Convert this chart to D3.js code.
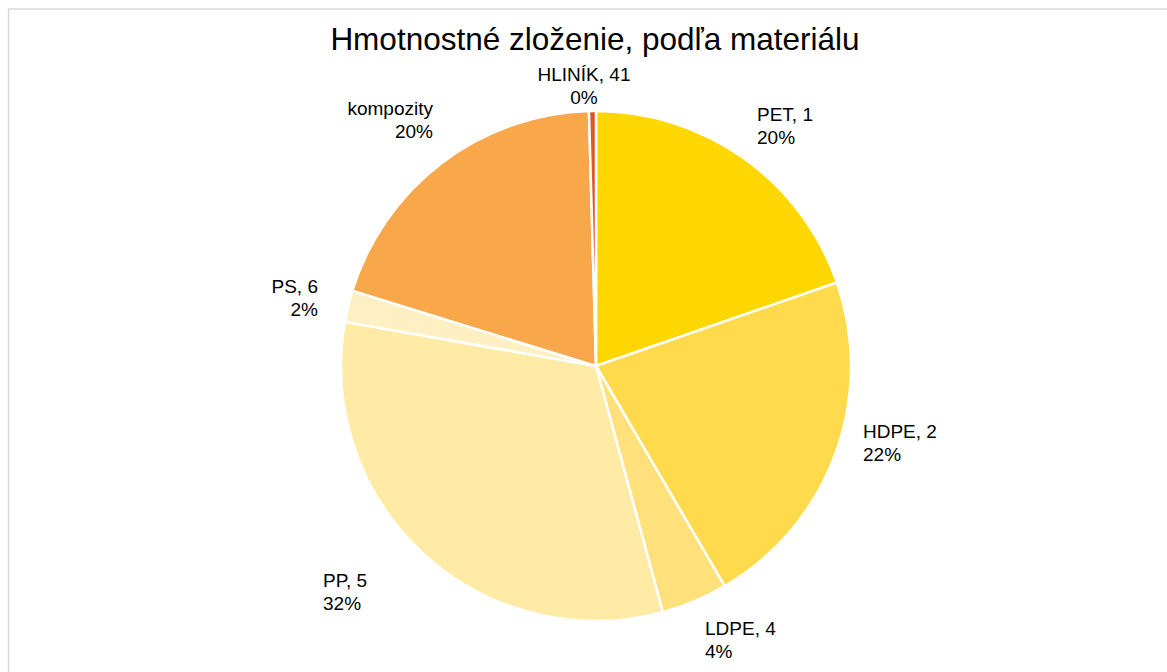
<!DOCTYPE html>
<html><head><meta charset="utf-8">
<script src="https://cdn.jsdelivr.net/npm/d3@7"></script>
<style>body{margin:0;background:#fff;} svg{display:block;font-family:"Liberation Sans",Arial,sans-serif;}</style>
</head><body>
<svg id="c" width="1167" height="672"></svg>
<script>
const categories = ["PET, 1","HDPE, 2","LDPE, 4","PP, 5","PS, 6","kompozity","HLINÍK, 41"];
const values = [19.7, 21.9, 4.2, 32.0, 2.0, 19.8, 0.44];
const pctLabels = ["20%","22%","4%","32%","2%","20%","0%"];
const colors = ["#FFD700","#FFDA4D","#FFE07A","#FFEAA6","#FFF0C4","#F8A74B","#E0522A"];
// label anchor positions (x,y of first line baseline) and alignment
const labelPos = [[757,121,"start"],[863,438,"start"],[705,635,"start"],[323,587,"start"],[318,293,"end"],[433,115,"end"],[584,81,"middle"]];

const svg = d3.select("#c");
svg.append("rect").attr("x",8.5).attr("y",9).attr("width",1170).attr("height",680)
  .attr("fill","none").attr("stroke","#d9d9d9").attr("stroke-width",1.5);

svg.append("text").attr("x",595).attr("y",50).attr("text-anchor","middle")
  .attr("font-size",31.5).attr("fill","#000").text("Hmotnostné zloženie, podľa materiálu");

const cx=596, cy=366, r=255;
const pie = d3.pie().sort(null).value(d=>d);
const arc = d3.arc().innerRadius(0).outerRadius(r);
const g = svg.append("g").attr("transform",`translate(${cx},${cy})`);
g.selectAll("path").data(pie(values)).join("path")
  .attr("d",arc).attr("fill",(d,i)=>colors[i]).attr("stroke","#fff").attr("stroke-width",2.5);

const lg = svg.append("g").attr("font-size",19).attr("fill","#000");
categories.forEach((c,i)=>{
  const [x,y,a]=labelPos[i];
  const t = lg.append("text").attr("text-anchor",a);
  t.append("tspan").attr("x",x).attr("y",y).text(c);
  t.append("tspan").attr("x",x).attr("y",y+23).text(pctLabels[i]);
});
</script>
</body></html>
